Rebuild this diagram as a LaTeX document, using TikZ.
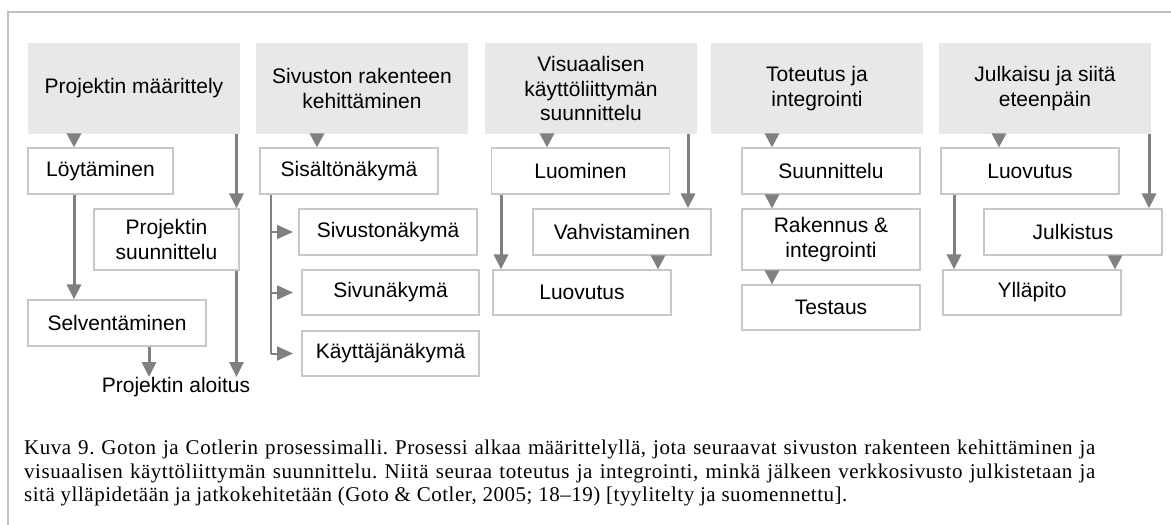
\documentclass[tikz,border=0pt]{standalone}
\usepackage{fontspec}
\setmainfont{Liberation Sans}
\newfontfamily\capserif[LetterSpace=2.5]{Liberation Serif}
\usetikzlibrary{arrows.meta}

\definecolor{headgray}{HTML}{E8E8E8}
\definecolor{boxline}{HTML}{C8C8C8}
\definecolor{arrowgray}{HTML}{808080}
\definecolor{framegray}{HTML}{C0C0C0}
\newcommand\dglab{\fontsize{21}{24.5}\selectfont}
\newcommand\dgcap{\capserif\fontsize{21}{23.3}\selectfont\frenchspacing}

\begin{document}
\begin{tikzpicture}[x=1pt,y=-1pt,
  head/.style={fill=headgray, draw=none, minimum width=212pt, minimum height=91pt,
    inner sep=0pt, align=center, font=\dglab},
  box/.style={draw=boxline, line width=1.2pt, fill=white, minimum width=178pt,
    minimum height=46pt, inner sep=0pt, align=center, font=\dglab},
  tri/.style={draw=arrowgray, line width=3pt, -{Triangle[width=14pt,length=14pt]}},
  stem/.style={draw=arrowgray, line width=3pt, -{Triangle[width=14pt,length=15pt]}},
  branch/.style={draw=arrowgray, line width=2pt},
  brtip/.style={draw=arrowgray, line width=2pt, -{Triangle[width=14pt,length=16pt]}},
]
\useasboundingbox (0,0) rectangle (1171,525);

% frame lines (left and top)
\draw[framegray, line width=2pt] (8,525) -- (8,12) -- (1171,12);

% phase headers
\node[head] (h1) at (134,88.5) {Projektin määrittely};
\node[head] (h2) at (362,88.5) {Sivuston rakenteen\\kehittäminen};
\node[head] (h3) at (591,88.5) {Visuaalisen\\käyttöliittymän\\suunnittelu};
\node[head] (h4) at (817,88.5) {Toteutus ja\\integrointi};
\node[head] (h5) at (1045,88.5) {Julkaisu ja siitä\\eteenpäin};

% column 1
\node[box, minimum width=145pt] (l1) at (100.5,171) {Löytäminen};
\node[box, minimum width=145pt, minimum height=61pt] (p1) at (166.5,239.5) {Projektin\\suunnittelu};
\node[box] (s1) at (117,323) {Selventäminen};
\node[font=\dglab, inner sep=0pt, anchor=north] (a1) at (176,377) {Projektin aloitus};

% column 2
\node[box] (c2) at (349,171) {Sisältönäkymä};
\node[box] (c2a) at (388,232) {Sivustonäkymä};
\node[box, minimum width=177pt, minimum height=45pt] (c2b) at (390.5,292.5) {Sivunäkymä};
\node[box, minimum width=177pt, minimum height=45pt] (c2c) at (390.5,353.5) {Käyttäjänäkymä};

% column 3
\node[box] (v1) at (580.5,171) {Luominen};
\node[box] (v2) at (622,232) {Vahvistaminen};
\node[box, minimum height=45pt] (v3) at (582,292.5) {Luovutus};

% column 4
\node[box] (t1) at (831,171) {Suunnittelu};
\node[box, minimum height=61pt] (t2) at (831,239.5) {Rakennus \&\\integrointi};
\node[box, minimum height=45pt] (t3) at (831,307.5) {Testaus};

% column 5
\node[box] (j1) at (1030,171) {Luovutus};
\node[box] (j2) at (1073,232) {Julkistus};
\node[box, minimum height=45pt] (j3) at (1032,292.5) {Ylläpito};

% connector columns
\coordinate (k1a) at (74,0);
\coordinate (k1b) at (236.5,0);
\coordinate (k1c) at (149,0);
\coordinate (k2a) at (317,0);
\coordinate (k2t) at (271,0);
\coordinate (k2e) at (293,0);
\coordinate (k3a) at (547,0);
\coordinate (k3b) at (688,0);
\coordinate (k3c) at (501,0);
\coordinate (k3d) at (658,0);
\coordinate (k4a) at (772,0);
\coordinate (k5a) at (999,0);
\coordinate (k5b) at (1149,0);
\coordinate (k5c) at (954,0);
\coordinate (k5d) at (1115,0);

% column 1 connectors
\draw[tri] (k1a |- h1.south) -- (k1a |- l1.north);
\draw[stem] (k1b |- h1.south) -- (k1b |- p1.north);
\draw[stem] (k1a |- l1.south) -- (k1a |- s1.north);
\draw[stem] (k1c |- s1.south) -- (k1c |- a1.north);
\draw[stem] (k1b |- p1.south) -- (k1b |- a1.north);

% column 2 connectors
\draw[tri] (k2a |- h2.south) -- (k2a |- c2.north);
\draw[branch] (k2t |- c2.south) -- (k2t |- c2c.west);
\draw[brtip] (k2t |- c2a.west) -- (k2e |- c2a.west);
\draw[brtip] (k2t |- c2b.west) -- (k2e |- c2b.west);
\draw[brtip] (k2t |- c2c.west) -- (k2e |- c2c.west);

% column 3 connectors
\draw[tri] (k3a |- h3.south) -- (k3a |- v1.north);
\draw[stem] (k3b |- h3.south) -- (k3b |- v2.north);
\draw[stem] (k3c |- v1.south) -- (k3c |- v3.north);
\draw[tri] (k3d |- v2.south) -- (k3d |- v3.north);

% column 4 connectors
\draw[tri] (k4a |- h4.south) -- (k4a |- t1.north);
\draw[tri] (k4a |- t1.south) -- (k4a |- t2.north);
\draw[tri] (k4a |- t2.south) -- (k4a |- t3.north);

% column 5 connectors
\draw[tri] (k5a |- h5.south) -- (k5a |- j1.north);
\draw[stem] (k5b |- h5.south) -- (k5b |- j2.north);
\draw[stem] (k5c |- j1.south) -- (k5c |- j3.north);
\draw[tri] (k5d |- j2.south) -- (k5d |- j3.north);

% caption
\node[anchor=north west, inner sep=0pt, text width=1071pt, align=justify, font=\dgcap] (cap) at (24,440)
{Kuva 9. Goton ja Cotlerin prosessimalli. Prosessi alkaa määrittelyllä, jota seuraavat sivuston rakenteen kehittäminen ja\linebreak
visuaalisen käyttöliittymän suunnittelu. Niitä seuraa toteutus ja integrointi, minkä jälkeen verkkosivusto julkistetaan ja\linebreak
sitä ylläpidetään ja jatkokehitetään (Goto \& Cotler, 2005; 18–19) [tyylitelty ja suomennettu].};
\end{tikzpicture}
\end{document}
